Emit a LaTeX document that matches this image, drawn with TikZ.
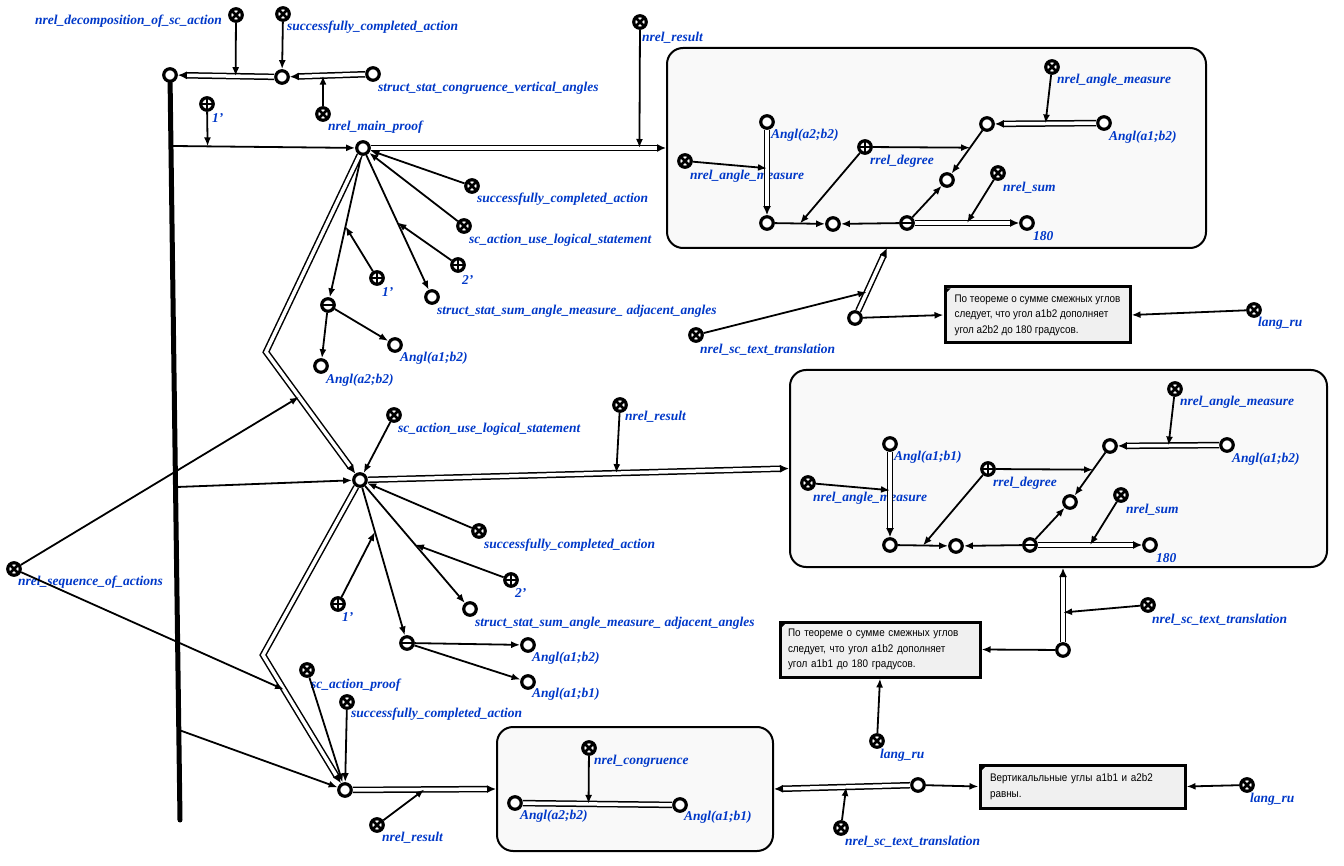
\documentclass[tikz,border=0pt]{standalone}
\usepackage{fontspec}
\setmainfont{Liberation Serif}
\newfontfamily\boxfont[FakeStretch=0.9]{Liberation Sans}
\usetikzlibrary{arrows.meta}
\definecolor{lblblue}{RGB}{0,56,200}
\definecolor{contourfill}{RGB}{249,249,249}
\definecolor{textfill}{RGB}{240,240,240}

\tikzset{
  scnode/.style={circle, draw, line width=3.2pt, fill=white, minimum size=12.5pt, inner sep=0pt},
  clsnode/.style={scnode, path picture={
      \draw[line width=2.6pt]
        (path picture bounding box.north west) -- (path picture bounding box.south east)
        (path picture bounding box.north east) -- (path picture bounding box.south west);}},
  plusnode/.style={scnode, path picture={
      \draw[line width=2.4pt]
        (path picture bounding box.north) -- (path picture bounding box.south)
        (path picture bounding box.west) -- (path picture bounding box.east);}},
  minusnode/.style={scnode, path picture={
      \draw[line width=2.4pt]
        (path picture bounding box.west) -- (path picture bounding box.east);}},
  lbl/.style={text=lblblue, font=\bfseries\itshape\fontsize{13.5}{14}\selectfont, inner sep=0pt, anchor=west},
  scarc/.style={draw, line width=1.8pt, -{Latex[length=9pt,width=7pt]}},
  scpair/.style={draw, line width=1.5pt, double=white, double distance=3.5pt, line join=miter, -{Latex[length=9pt,width=8pt]}},
  scedge/.style={draw, line width=1.5pt, double=white, double distance=3.5pt},
  contour/.style={draw, line width=2pt, rounded corners=16pt, fill=contourfill, inner sep=0pt},
  txtbox/.style={draw, line width=3pt, fill=textfill, inner xsep=0pt, inner ysep=0pt, align=left,
    font=\boxfont\fontsize{11}{15.5}\selectfont},
  bar/.style={draw, line width=5pt, line cap=round}
}

% angle-measure statement drawn inside a result contour
\newcommand\degreesum[2]{%
  \node[scnode] (#1ang) at (767,122) {};
  \node[lbl] (#1angl) at (771,135) {#2};
  \node[clsnode] (#1msr) at (685,161) {};
  \node[lbl] (#1msrl) at (690,176) {nrel\_angle\_measure};
  \node[scnode] (#1va) at (767,223) {};
  \node[scnode] (#1vb) at (833,224) {};
  \node[minusnode] (#1tup) at (907,223) {};
  \node[scnode] (#1num) at (1027,223) {};
  \node[lbl] (#1numl) at (1033,236) {180};
  \node[clsnode] (#1sum) at (998,173) {};
  \node[lbl] (#1suml) at (1003,188) {nrel\_sum};
  \node[scnode] (#1mid) at (947,180) {};
  \node[scnode] (#1up) at (987,124) {};
  \node[scnode] (#1angb) at (1104,123) {};
  \node[lbl] (#1angbl) at (1109,137) {Angl(a1;b2)};
  \node[clsnode] (#1msrb) at (1052,67) {};
  \node[lbl] (#1msrbl) at (1057,80) {nrel\_angle\_measure};
  \node[plusnode] (#1deg) at (865,147) {};
  \node[lbl] (#1degl) at (870,161) {rrel\_degree};
  \draw[scpair] (#1ang) -- (#1va) coordinate[pos=0.45] (#1p1);
  \draw[scarc] (#1msr) -- (#1p1);
  \draw[scarc] (#1va) -- (#1vb) coordinate[pos=0.5] (#1p2);
  \draw[scarc] (#1deg) -- (#1p2);
  \draw[scarc] (#1tup) -- (#1vb);
  \draw[scarc] (#1tup) -- (#1mid);
  \draw[scpair] (#1tup) -- (#1num) coordinate[pos=0.5] (#1p3);
  \draw[scarc] (#1sum) -- (#1p3);
  \draw[scpair] (#1angb) -- (#1up) coordinate[pos=0.5] (#1p4);
  \draw[scarc] (#1msrb) -- (#1p4);
  \draw[scarc] (#1up) -- (#1mid) coordinate[pos=0.4] (#1p5);
  \draw[scarc] (#1deg) -- (#1p5);
}

\begin{document}
\begin{tikzpicture}[x=1pt, y=-1pt]
\useasboundingbox (0,0) rectangle (1344,866);

% result contours
\node[contour, minimum width=539pt, minimum height=200pt] (B1) at (936.5,148) {};
\node[contour, minimum width=537pt, minimum height=197pt] (B2) at (1058.5,468.5) {};
\node[contour, minimum width=276pt, minimum height=124pt] (B3) at (635,789) {};

\degreesum{m}{Angl(a2;b2)}
\begin{scope}[shift={(123,322)}]
  \degreesum{n}{Angl(a1;b1)}
\end{scope}

% decomposition of the proof action
\node[scnode] (act0) at (170,75) {};
\node[clsnode] (decomp) at (236,15) {};
\node[lbl, anchor=east] (decompl) at (222,21) {nrel\_decomposition\_of\_sc\_action};
\node[clsnode] (succ0) at (283,14) {};
\node[lbl] (succ0l) at (287,27) {successfully\_completed\_action};
\node[scnode] (step0) at (282,77) {};
\node[scnode] (stat0) at (373,74) {};
\node[lbl] (stat0l) at (378,88) {struct\_stat\_congruence\_vertical\_angles};
\node[clsnode] (mproof) at (323,114) {};
\node[lbl] (mproofl) at (328,127) {nrel\_main\_proof};
\node[plusnode] (ord0) at (207,104) {};
\node[lbl] (ord0l) at (212,118) {1'};
\coordinate (barend) at (180,820);
\coordinate (bar1) at (173,146);
\coordinate (bar2) at (177,487);
\coordinate (bar3) at (179,730);

% first step
\node[scnode] (act1) at (363,148) {};
\node[clsnode] (res1) at (640,22) {};
\node[lbl] (res1l) at (642,38) {nrel\_result};
\node[clsnode] (succ1) at (472,186) {};
\node[lbl] (succ1l) at (477,199) {successfully\_completed\_action};
\node[clsnode] (uls1) at (464,226) {};
\node[lbl] (uls1l) at (469,240) {sc\_action\_use\_logical\_statement};
\node[plusnode] (two1) at (458,265) {};
\node[lbl] (two1l) at (462,280) {2'};
\node[scnode] (stat1) at (432,297) {};
\node[lbl] (stat1l) at (437,311) {struct\_stat\_sum\_angle\_measure\_ adjacent\_angles};
\node[plusnode] (one1) at (377,278) {};
\node[lbl] (one1l) at (382,292) {1'};
\node[minusnode] (tup1) at (328,305) {};
\node[scnode] (ang1) at (321,366) {};
\node[lbl] (ang1l) at (326,380) {Angl(a2;b2)};
\node[scnode] (ang2) at (395,345) {};
\node[lbl] (ang2l) at (400,358) {Angl(a1;b2)};
\coordinate (bend1) at (266,352);

% translation of the first result
\node[scnode] (tr1) at (855,318) {};
\coordinate (b1foot) at (887,248);
\node[clsnode] (ctr1) at (696,335) {};
\node[lbl] (ctr1l) at (700,350) {nrel\_sc\_text\_translation};
\node[txtbox, minimum width=185pt, minimum height=56pt] (tb1) at (1037.5,315)
  {По теореме о сумме смежных углов\\следует, что угол a1b2 дополняет\\угол a2b2 до 180 градусов.};
\node[clsnode] (lang1) at (1254,310) {};
\node[lbl] (lang1l) at (1258,323) {lang\_ru};

% sequence relation
\node[clsnode] (seq) at (14,569) {};
\node[lbl] (seql) at (18,582) {nrel\_sequence\_of\_actions};

% second step
\node[scnode] (act2) at (360,480) {};
\node[clsnode] (uls2) at (394,415) {};
\node[lbl] (uls2l) at (398,429) {sc\_action\_use\_logical\_statement};
\node[clsnode] (res2) at (620,405) {};
\node[lbl] (res2l) at (625,417) {nrel\_result};
\node[clsnode] (succ2) at (479,531) {};
\node[lbl] (succ2l) at (484,545) {successfully\_completed\_action};
\node[plusnode] (two2) at (511,580) {};
\node[lbl] (two2l) at (515,593) {2'};
\node[scnode] (stat2) at (470,609) {};
\node[lbl] (stat2l) at (475,623) {struct\_stat\_sum\_angle\_measure\_ adjacent\_angles};
\node[plusnode] (one2) at (338,604) {};
\node[lbl] (one2l) at (342,617) {1'};
\node[minusnode] (tup2) at (407,643) {};
\node[scnode] (ang3) at (528,645) {};
\node[lbl] (ang3l) at (532,658) {Angl(a1;b2)};
\node[scnode] (ang4) at (528,682) {};
\node[lbl] (ang4l) at (532,694) {Angl(a1;b1)};
\coordinate (bend2) at (263,655);

% translation of the second result
\node[scnode] (tr2) at (1063,650) {};
\node[clsnode] (ctr2) at (1148,605) {};
\node[lbl] (ctr2l) at (1152,620) {nrel\_sc\_text\_translation};
\node[txtbox, minimum width=200pt, minimum height=55pt, inner xsep=8pt, text width=184pt] (tb2) at (880,649.5)
  {По теореме о сумме смежных углов\\следует, что угол a1b2 дополняет\\угол a1b1 до 180 градусов.};
\node[clsnode] (lang2) at (877,741) {};
\node[lbl] (lang2l) at (880,755) {lang\_ru};

% third step
\node[scnode] (act3) at (345,790) {};
\node[clsnode] (proof) at (307,670) {};
\node[lbl] (proofl) at (311,685) {sc\_action\_proof};
\node[clsnode] (succ3) at (347,702) {};
\node[lbl] (succ3l) at (351,714) {successfully\_completed\_action};
\node[clsnode] (res3) at (377,825) {};
\node[lbl] (res3l) at (382,838) {nrel\_result};
\node[clsnode] (cong) at (589,748) {};
\node[lbl] (congl) at (594,761) {nrel\_congruence};
\node[scnode] (ang5) at (515,803) {};
\node[lbl] (ang5l) at (520,816) {Angl(a2;b2)};
\node[scnode] (ang6) at (680,805) {};
\node[lbl] (ang6l) at (684,817) {Angl(a1;b1)};

% translation of the third result
\node[scnode] (tr3) at (918,785) {};
\node[clsnode] (ctr3) at (841,828) {};
\node[lbl] (ctr3l) at (845,842) {nrel\_sc\_text\_translation};
\node[txtbox, minimum width=205pt, minimum height=43pt, inner xsep=10pt, text width=185pt] (tb3) at (1082.5,786.5)
  {Вертикальльные углы a1b1 и a2b2\\равны.};
\node[clsnode] (lang3) at (1247,785) {};
\node[lbl] (lang3l) at (1250,799) {lang\_ru};

% corner marks of the text boxes
\foreach \t in {tb1,tb2,tb3}
  \fill (\t.north west) ++(3,3) -- ++(4,0) -- ++(-4,4) -- cycle;

% connectors: decomposition
\draw[scpair] (step0) -- (act0) coordinate[pos=0.4] (dp);
\draw[scarc] (decomp) -- (dp);
\draw[scarc] (succ0) -- (step0);
\draw[scpair] (stat0) -- (step0) coordinate[pos=0.56] (mp);
\draw[scarc] (mproof) -- (mp);
\draw[bar] (act0) -- (barend);
\draw[scarc] (bar1) -- (act1) coordinate[pos=0.19] (o0p);
\draw[scarc] (ord0) -- (o0p);

% connectors: first step
\draw[scpair] (act1) -- (B1.west) coordinate[pos=0.91] (r1p);
\draw[scarc] (res1) -- (r1p);
\draw[scarc] (succ1) -- (act1);
\draw[scarc] (uls1) -- (act1);
\draw[scarc] (act1) -- (stat1) coordinate[pos=0.5] (s1p);
\draw[scarc] (two1) -- (s1p);
\draw[scarc] (act1) -- (tup1) coordinate[pos=0.5] (t1p);
\draw[scarc] (one1) -- (t1p);
\draw[scarc] (tup1) -- (ang1);
\draw[scarc] (tup1) -- (ang2);
\draw[scpair] (act1) -- (bend1) -- (act2) coordinate[pos=0.37] (q1p);
\draw[scarc] (seq) -- (q1p);
\draw[scpair] (tr1) -- (b1foot) coordinate[pos=0.3] (tr1p);
\draw[scarc] (ctr1) -- (tr1p);
\draw[scarc] (tr1) -- (tb1.west);
\draw[scarc] (lang1) -- (tb1.east);

% connectors: second step
\draw[scarc] (bar2) -- (act2);
\draw[scarc] (uls2) -- (act2);
\draw[scpair] (act2) -- (B2.west) coordinate[pos=0.59] (r2p);
\draw[scarc] (res2) -- (r2p);
\draw[scarc] (succ2) -- (act2);
\draw[scarc] (act2) -- (stat2) coordinate[pos=0.5] (s2p);
\draw[scarc] (two2) -- (s2p);
\draw[scarc] (act2) -- (tup2) coordinate[pos=0.3] (t2p);
\draw[scarc] (one2) -- (t2p);
\draw[scarc] (tup2) -- (ang3);
\draw[scarc] (tup2) -- (ang4);
\draw[scpair] (act2) -- (bend2) -- (act3) coordinate[pos=0.27] (q2p);
\draw[scarc] (seq) -- (q2p);
\draw[scpair] (tr2) -- (tr2 |- B2.south) coordinate[pos=0.4] (tr2p);
\draw[scarc] (ctr2) -- (tr2p);
\draw[scarc] (tr2) -- (tb2.east);
\draw[scarc] (lang2) -- (tb2.south);

% connectors: third step
\draw[scarc] (proof) -- (act3);
\draw[scarc] (succ3) -- (act3);
\draw[scarc] (bar3) -- (act3);
\draw[scpair] (act3) -- (B3.west) coordinate[pos=0.5] (r3p);
\draw[scarc] (res3) -- (r3p);
\draw[scedge] (ang5) -- (ang6) coordinate[pos=0.44] (cp);
\draw[scarc] (cong) -- (cp);
\draw[scpair] (tr3) -- (B3.east) coordinate[pos=0.47] (tr3p);
\draw[scarc] (ctr3) -- (tr3p);
\draw[scarc] (tr3) -- (tb3.west);
\draw[scarc] (lang3) -- (tb3.east);
\end{tikzpicture}
\end{document}
